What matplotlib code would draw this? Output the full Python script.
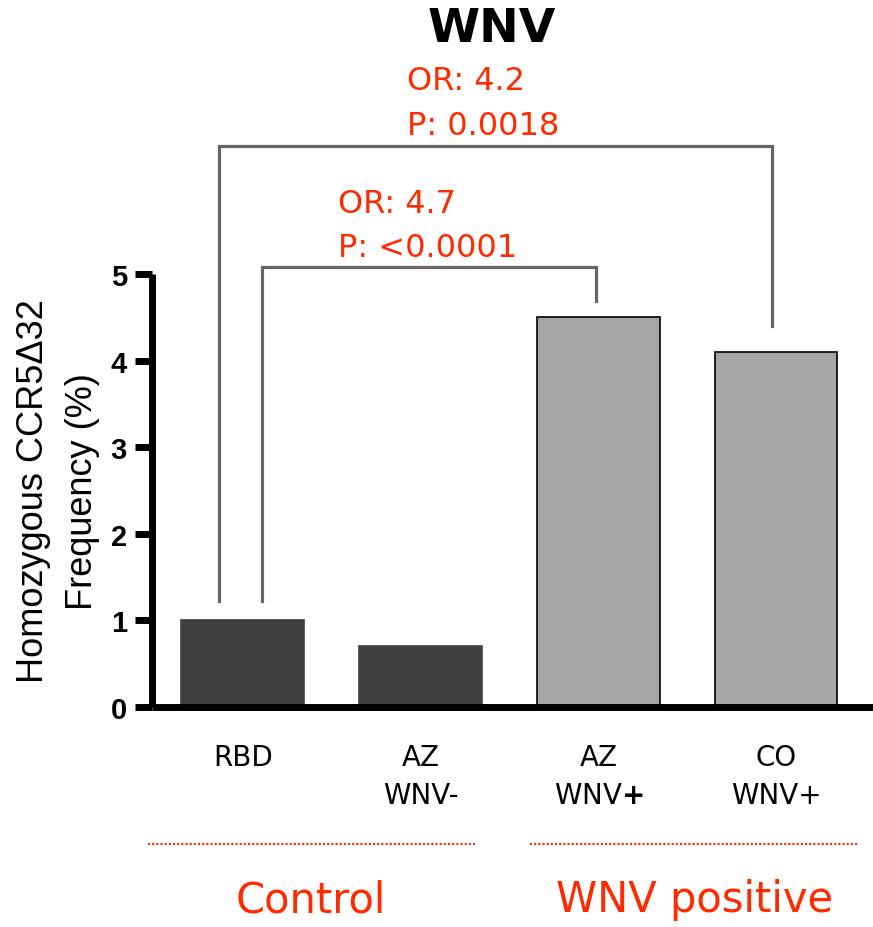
import matplotlib
matplotlib.use("Agg")
import matplotlib.pyplot as plt

categories = ["RBD", "AZ\nWNV-", "AZ\nWNV$\\mathbf{+}$", "CO\nWNV+"]
values = [1.0, 0.7, 4.5, 4.1]
groups = ["Control", "WNV positive"]
yticks = [0, 1, 2, 3, 4, 5]
ann_inner = ["OR: 4.7", "P: <0.0001"]
ann_outer = ["OR: 4.2", "P: 0.0018"]

RED = "#ff2a00"
plt.rcParams["mathtext.fontset"] = "dejavusans"

fig = plt.figure(figsize=(8.73, 9.28), dpi=100)
ax = fig.add_axes([152/873, 1-708/928, 1-152/873, (708-275)/928])

x = list(range(len(categories)))
colors = ["#404040", "#404040", "#a6a6a6", "#a6a6a6"]
edges = ["#404040", "#404040", "black", "black"]
ax.bar(x, values, width=0.69, color=colors, edgecolor=edges, linewidth=1.2, zorder=2)

ax.set_xlim(-0.51, 3.545)
ax.set_ylim(0, 5)
for s in ["top", "right"]:
    ax.spines[s].set_visible(False)
for s in ["left", "bottom"]:
    ax.spines[s].set_linewidth(5)
    ax.spines[s].set_capstyle("butt")
ax.set_yticks(yticks)
ax.set_yticklabels([str(t) for t in yticks], fontsize=21, fontweight="bold",
                   family="Liberation Sans")
ax.tick_params(axis="y", length=12, width=5, pad=6)
ax.set_xticks(x)
ax.set_xticklabels(categories, fontsize=20, family="DejaVu Sans", linespacing=1.45)
ax.tick_params(axis="x", length=0, pad=26)
ax.set_ylabel("Homozygous CCR5\u039432\nFrequency (%)", fontsize=26,
              family="Liberation Sans", labelpad=8, linespacing=1.5)

# brackets
gray = "#666666"
ax.plot([0.107, 0.107, 1.987, 1.987], [1.22, 5.08, 5.08, 4.69], color=gray,
        lw=2.3, clip_on=False, solid_joinstyle="miter")
ax.plot([-0.135, -0.135, 2.977, 2.977], [1.22, 6.48, 6.48, 4.4], color=gray,
        lw=2.3, clip_on=False, solid_joinstyle="miter")

ax.text(0.535, 5.81, ann_inner[0], color=RED, fontsize=23, ha="left", va="center", clip_on=False)
ax.text(0.535, 5.31, ann_inner[1], color=RED, fontsize=23, ha="left", va="center", clip_on=False)
ax.text(0.923, 7.23, ann_outer[0], color=RED, fontsize=23, ha="left", va="center", clip_on=False)
ax.text(0.923, 6.71, ann_outer[1], color=RED, fontsize=23, ha="left", va="center", clip_on=False)

# group separators and labels
ax.plot([-0.535, 1.311], [-1.58, -1.58], color=RED, lw=1.5, ls=(0, (1, 1)), clip_on=False)
ax.plot([1.615, 3.461], [-1.58, -1.58], color=RED, lw=1.5, ls=(0, (1, 1)), clip_on=False)
ax.text(0.383, -2.22, groups[0], color=RED, fontsize=30, ha="center", va="center", clip_on=False)
ax.text(2.54, -2.22, groups[1], color=RED, fontsize=30, ha="center", va="center", clip_on=False)

fig.text(492/873, 1-30/928, "WNV", fontsize=34, fontweight="bold", ha="center", va="center")

fig.savefig("out.png", dpi=100)
